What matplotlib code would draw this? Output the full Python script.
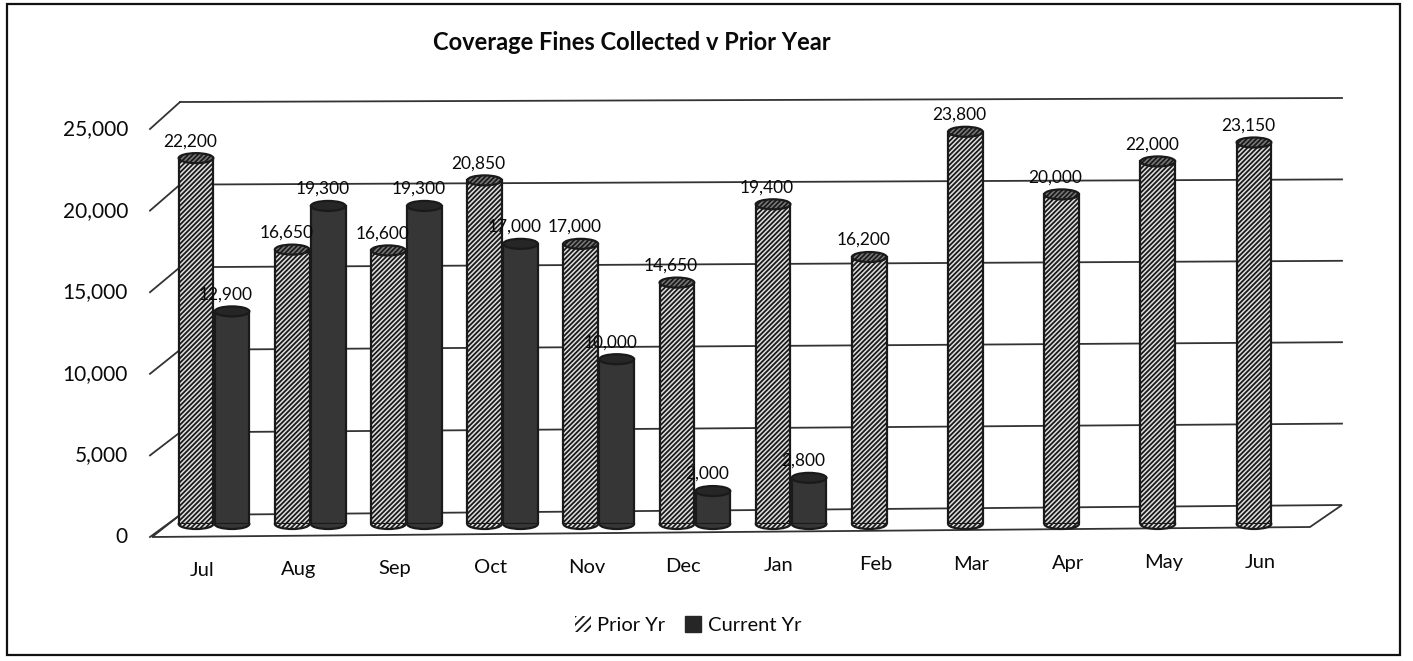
import numpy as np
import matplotlib.pyplot as plt
from matplotlib.patches import Ellipse, Patch, Rectangle, Polygon

plt.rcParams['font.family'] = ['Lato', 'DejaVu Sans']
plt.rcParams['hatch.linewidth'] = 1.3

months = ['Jul', 'Aug', 'Sep', 'Oct', 'Nov', 'Dec', 'Jan', 'Feb', 'Mar', 'Apr', 'May', 'Jun']
prior_yr = [22200, 16650, 16600, 20850, 17000, 14650, 19400, 16200, 23800, 20000, 22000, 23150]
current_yr = [12900, 19300, 19300, 17000, 10000, 2000, 2800]
y_ticks = [0, 5000, 10000, 15000, 20000, 25000]

W, H = 1413, 661
fig = plt.figure(figsize=(W / 100, H / 100), dpi=100)
ax = fig.add_axes([152 / W, (H - 524) / H, 1158 / W, 412 / H])
ax.set_xlim(-0.52, 11.52)
ax.set_ylim(0, 25000)
ax.axis('off')

# pixel -> data unit helpers for the fake 3d frame
xpp = (11.52 + 0.52) / 1158
ypp = 25000 / 412
x0, x1 = ax.get_xlim()

def back_off(v, side):
    # back wall sits a little higher than the bars, and tilts up to the right
    if side == 0:
        return (9 + 1 * v / 25000) * ypp
    return (19 - 5 * v / 25000) * ypp

def front_off(v):
    return (-13 - 4 * v / 25000) * ypp

bx0, bx1 = x0 + 28 * xpp, x1 + 32 * xpp
line_kw = dict(color='#333333', lw=1.3, clip_on=False)
txt = '#0a0a0a'

# floor
floor = Polygon([(x0, front_off(0)), (x1, -3 * ypp), (bx1, back_off(0, 1)), (bx0, back_off(0, 0))],
                closed=True, facecolor='white', edgecolor='#333333', lw=1.3, clip_on=False, zorder=0.5)
ax.add_patch(floor)

# back wall gridlines, connectors and tick labels
for v in y_ticks:
    if v > 0:
        ax.plot([bx0, bx1], [v + back_off(v, 0), v + back_off(v, 1)], zorder=1, **line_kw)
    ax.plot([x0 - 2 * xpp, bx0], [v + front_off(v), v + back_off(v, 0)], zorder=1, **line_kw)
    ax.text(x0 - 24 * xpp, v + front_off(v), f'{v:,}', ha='right', va='center',
            fontsize=15, color=txt, clip_on=False)

x = np.arange(len(months))
bw = 0.36
px = x - 6 * xpp
cx = px[:len(current_yr)] + 36 * xpp
cap_h = 10 * ypp

ax.bar(px, prior_yr, width=bw, facecolor='#e0e0e0', edgecolor='#1a1a1a', hatch='///////',
       lw=1.6, zorder=3)
ax.bar(cx, current_yr, width=bw, facecolor='#363636', edgecolor='#1a1a1a', lw=1.6, zorder=3)

# cylinder ends
for xi, v in zip(px, prior_yr):
    ax.add_patch(Ellipse((xi, 0), bw, cap_h, facecolor='#e0e0e0', edgecolor='#1a1a1a',
                         hatch='///////', lw=1.6, zorder=2.9, clip_on=False))
    ax.add_patch(Ellipse((xi, v), bw, cap_h, facecolor='#7a7a7a', edgecolor='#1a1a1a',
                         hatch='///////', lw=1.6, zorder=3.1, clip_on=False))
for xi, v in zip(cx, current_yr):
    ax.add_patch(Ellipse((xi, 0), bw, cap_h, facecolor='#363636', edgecolor='#1a1a1a',
                         lw=1.6, zorder=2.9, clip_on=False))
    ax.add_patch(Ellipse((xi, v), bw, cap_h, facecolor='#262626', edgecolor='#1a1a1a',
                         lw=1.6, zorder=3.1, clip_on=False))

# value labels
for xi, v in zip(px, prior_yr):
    ax.text(xi - 6 * xpp, v + 17 * ypp, f'{v:,}', ha='center', va='center', fontsize=12.5,
            color=txt, zorder=5, clip_on=False)
for xi, v in zip(cx, current_yr):
    ax.text(xi - 6 * xpp, v + 17 * ypp, f'{v:,}', ha='center', va='center', fontsize=12.5,
            color=txt, zorder=5, clip_on=False)

# month labels
for i, m in enumerate(months):
    ax.text(i, (-46 + 8 * i / 11) * ypp, m, ha='center', va='center', fontsize=14.5,
            color=txt, clip_on=False)

fig.text(632 / W, 1 - 43 / H, 'Coverage Fines Collected v Prior Year', ha='center', va='center',
         fontsize=17, fontweight='bold', color=txt)

handles = [Patch(facecolor='white', edgecolor='#1a1a1a', hatch='////', lw=0, label='Prior Yr'),
           Patch(facecolor='#262626', edgecolor='#262626', label='Current Yr')]
leg = fig.legend(handles=handles, loc='center', bbox_to_anchor=(688 / W, 1 - 625 / H), ncol=2,
                 frameon=False, fontsize=14.5, handlelength=0.8, handleheight=0.8,
                 handletextpad=0.3, columnspacing=1.0)
for t in leg.get_texts():
    t.set_color(txt)

fig.patches.append(Rectangle((7 / W, 6 / H), 1393 / W, 651 / H, transform=fig.transFigure,
                             fill=False, edgecolor='#111111', lw=1.6))

fig.savefig('out.png', dpi=100)
